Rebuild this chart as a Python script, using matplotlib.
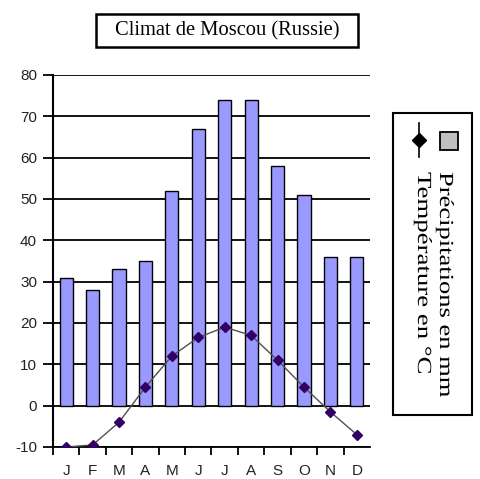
import matplotlib.pyplot as plt
from matplotlib.patches import Rectangle, PathPatch
from matplotlib.lines import Line2D
from matplotlib.textpath import TextPath
from matplotlib.font_manager import FontProperties
from matplotlib.transforms import Affine2D, IdentityTransform

months = ["J", "F", "M", "A", "M", "J", "J", "A", "S", "O", "N", "D"]
precip_mm = [31, 28, 33, 35, 52, 67, 74, 74, 58, 51, 36, 36]
temp_c = [-10, -9.5, -4, 4.5, 12, 16.5, 19, 17, 11, 4.5, -1.5, -7]
yticks = [-10, 0, 10, 20, 30, 40, 50, 60, 70, 80]

W, H = 481, 479
fig = plt.figure(figsize=(W / 100, H / 100), dpi=100)
ax = fig.add_axes([53 / W, 1 - 447 / H, (370 - 53) / W, (447 - 75) / H])

x = list(range(len(months)))

for y in yticks:
    ax.axhline(y, color="black", lw=1.3, zorder=1)

ax.bar(x, precip_mm, width=0.5, color="#9999ff", edgecolor="black",
       linewidth=1, zorder=2)
ax.plot(x, temp_c, color="#505050", lw=1, marker="D", markersize=5,
        markerfacecolor="#330066", markeredgecolor="#330066", zorder=3)

ax.set_xlim(-0.5, 11.5)
ax.set_ylim(-10, 80)
ax.set_yticks(yticks)
ax.set_yticklabels([str(v) for v in yticks], family="Liberation Sans",
                   fontsize=11, color="#222222")
ax.set_xticks(x)
ax.set_xticklabels(months, family="Liberation Sans", fontsize=11,
                   color="#222222")
ax.set_xticks([i - 0.5 for i in range(12)], minor=True)
ax.tick_params(axis="x", which="major", length=0, pad=12)
ax.tick_params(axis="x", which="minor", length=6, width=1.3, direction="out")
ax.tick_params(axis="y", length=7, width=1.3, direction="out", pad=4.5)

for side in ["top", "right"]:
    ax.spines[side].set_visible(False)
ax.spines["left"].set_linewidth(1.5)
ax.spines["bottom"].set_linewidth(1.3)

# title box
fig.add_artist(Rectangle((96 / W, 1 - 47 / H), (358 - 96) / W, 33 / H,
                         transform=fig.transFigure, facecolor="white",
                         edgecolor="black", lw=1.8))
fig.text(227 / W, 1 - 31 / H, "Climat de Moscou (Russie)",
         family="Liberation Serif", fontsize=14.8, ha="center", va="center")

# rotated legend box (pixel coords, origin bottom-left)
fig.add_artist(Rectangle((393 / W, 1 - 415 / H), (472 - 393) / W, (415 - 113) / H,
                         transform=fig.transFigure, facecolor="white",
                         edgecolor="black", lw=1.5))
fig.add_artist(Rectangle((440 / W, 1 - 150 / H), 18 / W, 18 / H,
                         transform=fig.transFigure, facecolor="#c0c0c0",
                         edgecolor="black", lw=1.3))
fig.add_artist(Line2D([419 / W, 419 / W], [1 - 123 / H, 1 - 157 / H],
                      transform=fig.transFigure, color="black", lw=1.2))
fig.add_artist(Line2D([419 / W], [1 - 140 / H], transform=fig.transFigure,
                      marker="D", markersize=7, color="black"))

serif = FontProperties(family="Liberation Serif")


def legend_text(s, x_base, y_top, y_end):
    # text runs top to bottom, stretched along its length like the original
    tp = TextPath((0, 0), s, size=20, prop=serif)
    ext = tp.get_extents()
    sx = (y_end - y_top) / ext.x1
    tr = Affine2D().scale(sx, 1).rotate_deg(-90).translate(x_base, H - y_top)
    fig.add_artist(PathPatch(tp, transform=tr + IdentityTransform(),
                             facecolor="black", edgecolor="none"))


legend_text("Précipitations en mm", 440, 172, 397)
legend_text("Température en °C", 418, 172, 373)

fig.savefig("out.png", dpi=100)
